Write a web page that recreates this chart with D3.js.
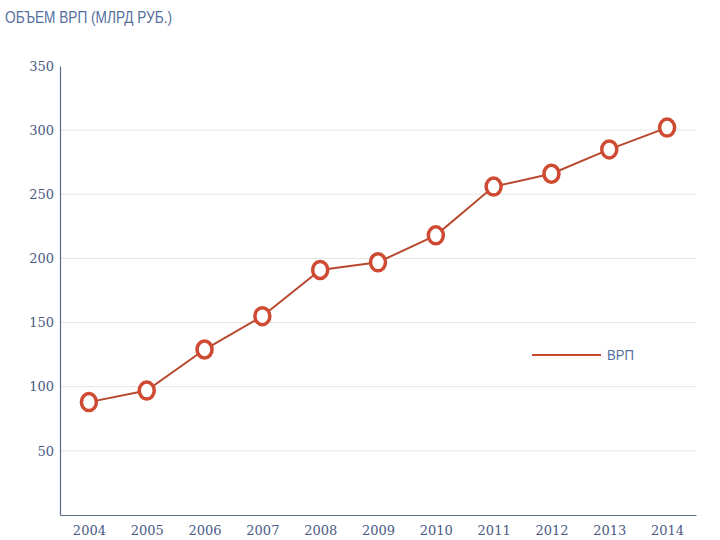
<!DOCTYPE html>
<html><head><meta charset="utf-8">
<script src="https://cdn.jsdelivr.net/npm/d3@7"></script>
<style>body{margin:0;background:#fff}</style>
</head><body>
<svg id="c" width="720" height="540"></svg>
<script>
const years = ["2004","2005","2006","2007","2008","2009","2010","2011","2012","2013","2014"];
const vrp = [88, 97, 129, 155, 191, 197, 218, 256, 266, 285, 302];
const yTicks = [50, 100, 150, 200, 250, 300, 350];
const title = "ОБЪЕМ ВРП (МЛРД РУБ.)";
const seriesName = "ВРП";

const svg = d3.select("#c");
const L = 60, R = 696, T = 66, B = 515;
const x = d3.scalePoint().domain(years).range([L, R]).padding(0.5);
const y = d3.scaleLinear().domain([0, 350]).range([B, T]);

svg.append("text").attr("x", 5).attr("y", 23).text(title)
  .attr("font-family", "'Liberation Sans Narrow','Arial Narrow',sans-serif")
  .attr("font-size", 16).attr("fill", "#5570a0")
  .attr("textLength", 167).attr("lengthAdjust", "spacingAndGlyphs");

// grid
svg.append("g").selectAll("line").data(yTicks.filter(d => d < 350)).join("line")
  .attr("x1", L).attr("x2", R).attr("y1", d => y(d)).attr("y2", d => y(d))
  .attr("stroke", "#e6e6e6").attr("stroke-width", 1);

const yAxis = svg.append("g").attr("transform", `translate(${L},0)`)
  .call(d3.axisLeft(y).tickValues(yTicks).tickSize(0).tickPadding(6));
yAxis.select(".domain").attr("stroke", "#5a6a8a").attr("stroke-width", 1.2);
yAxis.selectAll("text").attr("font-family", "Georgia,'DejaVu Serif',serif")
  .attr("font-size", 13).attr("fill", "#4a5a85");

const xAxis = svg.append("g").attr("transform", `translate(0,${B})`)
  .call(d3.axisBottom(x).tickSize(0).tickPadding(11));
xAxis.select(".domain").attr("stroke", "#5a6a8a").attr("stroke-width", 1.2);
xAxis.selectAll("text").attr("font-family", "Georgia,'DejaVu Serif',serif")
  .attr("font-size", 13).attr("fill", "#4a5a85");

const line = d3.line().x((d, i) => x(years[i])).y(d => y(d));
svg.append("path").datum(vrp).attr("d", line).attr("fill", "none")
  .attr("stroke", "#b8492f").attr("stroke-width", 2);

svg.append("g").selectAll("ellipse").data(vrp).join("ellipse")
  .attr("cx", (d, i) => x(years[i])).attr("cy", d => y(d))
  .attr("rx", 7.5).attr("ry", 8.5)
  .attr("fill", "#fff").attr("stroke", "#cf4a32").attr("stroke-width", 3.5);

// legend
svg.append("line").attr("x1", 532).attr("x2", 601).attr("y1", 355).attr("y2", 355)
  .attr("stroke", "#c9472f").attr("stroke-width", 2);
svg.append("text").attr("x", 607).attr("y", 360).text(seriesName)
  .attr("font-family", "'Liberation Sans Narrow','Arial Narrow',sans-serif")
  .attr("font-size", 15).attr("fill", "#5570a0")
  .attr("textLength", 27).attr("lengthAdjust", "spacingAndGlyphs");
</script>
</body></html>
